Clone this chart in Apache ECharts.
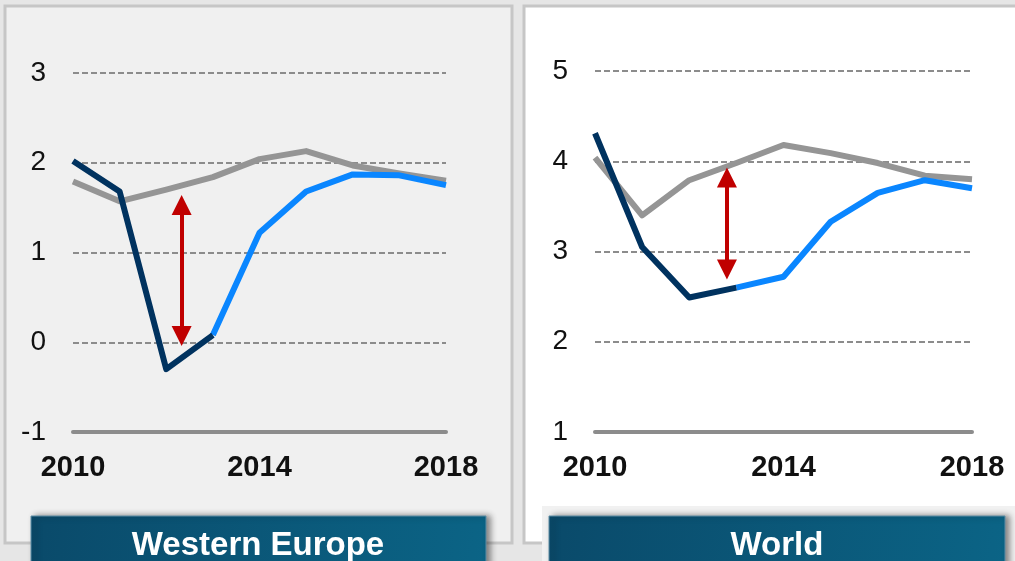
<!DOCTYPE html>
<html>
<head>
<meta charset="utf-8">
<script src="https://cdn.jsdelivr.net/npm/echarts@6/dist/echarts.min.js"></script>
<style>
  html, body { margin: 0; padding: 0; background: #e6e6e6; }
  #chart { width: 1015px; height: 561px; }
</style>
</head>
<body>
<div id="chart"></div>
<script>
// Years on the horizontal axis
const years = [2010, 2011, 2012, 2013, 2014, 2015, 2016, 2017, 2018];

// Western Europe
const weEarlier = [1.79, 1.57, 1.70, 1.84, 2.04, 2.13, 1.97, 1.88, 1.80];
const weActual = [2.02, 1.68, -0.30, 0.08, null, null, null, null, null];
const weLatest = [null, null, null, 0.08, 1.22, 1.68, 1.87, 1.86, 1.75];
// gap arrow: shaft ends (arrowheads centred on them)
const weGap = { x: 2012.33, from: 1.53, to: 0.07 };
const weTicks = { min: -1, max: 3, interval: 1 };

// World
const wdEarlier = [4.04, 3.40, 3.79, 3.98, 4.18, 4.09, 3.98, 3.84, 3.80];
const wdActual = [4.31, 3.05, 2.49, 2.60, null, null, null, null, null];
const wdLatest = [null, null, null, 2.60, 2.72, 3.33, 3.65, 3.79, 3.70];
const wdGap = { x: 2012.8, from: 3.82, to: 2.80 };
const wdTicks = { min: 1, max: 5, interval: 1 };

const xLabels = [2010, 2014, 2018];
const panelTitles = ['Western Europe', 'World'];

const FONT = '"Liberation Sans", Arial, sans-serif';
const C_GRAY = '#959595';
const C_NAVY = '#00325f';
const C_BLUE = '#0a86ff';
const C_RED = '#c00000';
const C_GRID = '#8c8c8c';

const pairs = (vals) => years.map((y, i) => [y, vals[i]]);

function xAxis(gridIndex) {
  return {
    type: 'value', gridIndex, min: 2010, max: 2018, interval: 4,
    axisLine: { show: true, onZero: false, lineStyle: { color: C_GRID, width: 4 } },
    axisTick: { show: false },
    splitLine: { show: false },
    axisLabel: {
      color: '#111', fontFamily: FONT, fontSize: 29, fontWeight: 'bold', margin: 21,
      formatter: (v) => (xLabels.indexOf(v) >= 0 ? String(v) : '')
    }
  };
}

function yAxis(gridIndex, t) {
  return {
    type: 'value', gridIndex, min: t.min, max: t.max, interval: t.interval,
    axisLine: { show: false }, axisTick: { show: false },
    axisLabel: { color: '#111', fontFamily: FONT, fontSize: 28, margin: 27 },
    splitLine: { show: true, lineStyle: { color: C_GRID, width: 2, type: [6, 3] } }
  };
}

function lineSeries(idx, vals, color, z) {
  return {
    type: 'line', xAxisIndex: idx, yAxisIndex: idx, data: pairs(vals),
    showSymbol: false, symbol: 'none', connectNulls: false, z,
    lineStyle: { color, width: 6, cap: 'butt', join: 'round' },
    silent: true, animation: false
  };
}

function gapSeries(idx, gap) {
  return {
    type: 'line', xAxisIndex: idx, yAxisIndex: idx, data: [], silent: true, animation: false,
    markLine: {
      silent: true, animation: false,
      symbol: ['triangle', 'triangle'], symbolSize: [20, 20],
      label: { show: false },
      lineStyle: { color: C_RED, width: 4, type: 'solid' },
      data: [[{ coord: [gap.x, gap.from] }, { coord: [gap.x, gap.to] }]]
    },
    z: 6
  };
}

const chart = echarts.init(document.getElementById('chart'), null, { renderer: 'canvas' });

const shadow = { shadowBlur: 6, shadowOffsetX: 4, shadowOffsetY: 0, shadowColor: 'rgba(0,0,0,0.45)' };
const boxFill = {
  type: 'linear', x: 0, y: 0, x2: 1, y2: 1,
  colorStops: [{ offset: 0, color: '#0a4a6a' }, { offset: 1, color: '#0b6486' }]
};

chart.setOption({
  backgroundColor: '#e6e6e6',
  animation: false,
  graphic: [
    { type: 'rect', z: -10, shape: { x: 5, y: 6, width: 507, height: 537 },
      style: { fill: '#f0f0f0', stroke: '#c6c6c6', lineWidth: 3 } },
    { type: 'rect', z: -10, shape: { x: 524, y: 6, width: 500, height: 537 },
      style: { fill: '#ffffff', stroke: '#c6c6c6', lineWidth: 3 } },
    { type: 'rect', z: -9, shape: { x: 542, y: 506, width: 480, height: 60 },
      style: { fill: '#f1f1f1' } },
    { type: 'rect', z: 20, shape: { x: 31, y: 516, width: 455, height: 60 },
      style: Object.assign({ fill: boxFill, stroke: '#5f8ea6', lineWidth: 1 }, shadow) },
    { type: 'rect', z: 20, shape: { x: 549, y: 516, width: 456, height: 60 },
      style: Object.assign({ fill: boxFill, stroke: '#5f8ea6', lineWidth: 1 }, shadow) },
    { type: 'text', z: 21, x: 258, y: 546,
      style: { text: panelTitles[0], fill: '#fff', font: 'bold 33px ' + FONT, align: 'center', verticalAlign: 'middle' } },
    { type: 'text', z: 21, x: 777, y: 546,
      style: { text: panelTitles[1], fill: '#fff', font: 'bold 33px ' + FONT, align: 'center', verticalAlign: 'middle' } }
  ],
  grid: [
    { left: 73, right: 569, top: 73, bottom: 129 },
    { left: 595, right: 43, top: 71, bottom: 129 }
  ],
  xAxis: [xAxis(0), xAxis(1)],
  yAxis: [yAxis(0, weTicks), yAxis(1, wdTicks)],
  series: [
    lineSeries(0, weEarlier, C_GRAY, 3),
    lineSeries(0, weLatest, C_BLUE, 4),
    lineSeries(0, weActual, C_NAVY, 5),
    gapSeries(0, weGap),
    lineSeries(1, wdEarlier, C_GRAY, 3),
    lineSeries(1, wdLatest, C_BLUE, 4),
    lineSeries(1, wdActual, C_NAVY, 5),
    gapSeries(1, wdGap)
  ]
});
</script>
</body>
</html>
